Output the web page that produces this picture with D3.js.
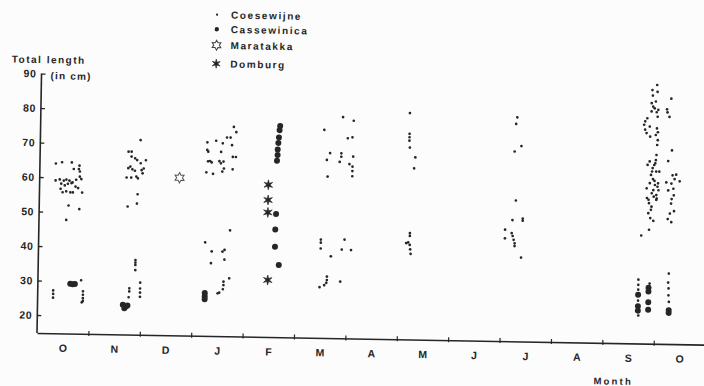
<!DOCTYPE html>
<html>
<head>
<meta charset="utf-8">
<script src="https://cdn.jsdelivr.net/npm/d3@7"></script>
<style>
  body { margin: 0; background: #fcfcfc; }
  svg { display: block; font-family: "Liberation Sans", Arial, sans-serif; font-weight: bold; }
</style>
</head>
<body>
<svg id="chart" width="704" height="386"></svg>
<script>
// month labels, October to October (x = months since 1 October)
const months = ['O', 'N', 'D', 'J', 'F', 'M', 'A', 'M', 'J', 'J', 'A', 'S', 'O'];
const yTicks = [20, 30, 40, 50, 60, 70, 80, 90];
const series = ['Coesewijne', 'Cassewinica', 'Maratakka', 'Domburg'];

// [month, total length in cm]
const coesewijne = [
  // October
  [0.31, 64.0], [0.43, 64.4], [0.62, 64.4], [0.77, 63.5], [0.66, 62.5], [0.76, 62.5], [0.78, 61.8],
  [0.31, 59.1], [0.39, 59.4], [0.47, 59.1], [0.52, 59.4], [0.58, 59.1], [0.64, 58.6], [0.71, 59.4],
  [0.78, 60.3], [0.81, 59.6], [0.42, 58.2], [0.49, 57.7], [0.55, 58.2], [0.62, 58.4], [0.70, 57.4],
  [0.41, 56.7], [0.45, 55.7], [0.52, 56.0], [0.60, 55.7], [0.65, 55.7], [0.75, 57.0], [0.83, 55.7],
  [0.57, 51.9], [0.78, 50.9], [0.53, 47.7],
  [0.30, 27.2], [0.30, 26.2], [0.30, 25.1], [0.84, 30.3], [0.88, 27.1], [0.88, 26.1], [0.88, 25.1],
  [0.88, 24.3], [0.86, 23.9],
  // November
  [1.72, 67.8], [1.78, 67.8], [1.78, 66.4], [1.85, 65.9], [1.89, 65.4], [1.72, 63.0], [1.76, 63.5],
  [1.80, 62.7], [1.85, 62.3], [1.95, 71.2], [1.96, 64.5], [2.02, 63.0], [2.06, 65.4], [1.98, 62.5],
  [2.00, 61.6], [1.69, 60.3], [1.78, 60.3], [1.88, 60.6], [1.91, 60.1], [1.91, 55.5], [1.72, 51.9],
  [1.90, 52.8],
  [1.78, 28.2], [1.78, 27.3], [1.77, 25.6], [1.89, 36.4], [1.89, 35.7], [1.89, 35.0], [1.89, 33.5],
  [1.99, 29.9], [1.99, 28.2], [1.99, 27.0], [1.99, 25.8],
  // January
  [3.25, 70.9], [3.25, 68.7], [3.27, 68.2], [3.42, 71.4], [3.52, 68.2], [3.55, 70.7], [3.63, 72.4],
  [3.70, 72.4], [3.73, 70.2], [3.76, 75.5], [3.81, 74.0], [3.31, 65.5], [3.27, 65.4], [3.34, 65.1],
  [3.49, 65.5], [3.52, 64.9], [3.57, 65.4], [3.75, 66.8], [3.81, 66.8], [3.24, 62.2], [3.37, 61.8],
  [3.55, 62.5], [3.58, 63.4], [3.75, 63.2],
  [3.24, 41.9], [3.37, 39.3], [3.36, 35.9], [3.58, 39.3], [3.62, 39.8], [3.72, 45.5], [3.62, 37.0],
  [3.61, 30.6], [3.61, 29.6], [3.72, 31.6], [3.50, 27.2], [3.53, 27.4], [3.60, 28.4],
  // March
  [5.52, 75.1], [5.88, 78.9], [6.09, 77.9], [5.98, 72.8], [6.07, 73.1], [5.64, 68.4], [5.58, 66.4],
  [5.86, 68.4], [5.86, 67.4], [5.83, 65.9], [6.09, 67.5], [6.02, 65.3], [6.08, 64.6], [6.08, 63.3],
  [6.08, 61.8], [5.60, 61.6],
  [5.49, 43.3], [5.49, 42.4], [5.49, 40.7], [5.95, 43.4], [5.90, 40.5], [6.08, 40.4], [5.69, 38.5],
  [5.62, 32.6], [5.62, 31.6], [5.61, 30.8], [5.57, 30.1], [5.48, 29.5], [5.88, 31.2],
  // May
  [7.18, 80.4], [7.18, 74.4], [7.18, 73.4], [7.18, 72.4], [7.19, 70.4], [7.30, 67.6], [7.28, 64.4],
  [7.22, 45.6], [7.22, 44.8], [7.15, 42.7], [7.19, 42.9], [7.22, 42.2], [7.23, 40.9], [7.24, 39.6],
  // July
  [9.27, 79.7], [9.25, 77.8], [9.36, 71.4], [9.23, 69.8], [9.27, 55.6], [9.21, 49.9], [9.41, 50.4],
  [9.41, 49.8], [9.07, 47.1], [9.07, 44.6], [9.20, 46.1], [9.22, 45.3], [9.24, 44.2], [9.26, 43.2],
  [9.26, 42.4], [9.39, 39.1],
  // September
  [11.98, 89.8], [11.89, 88.3], [11.99, 87.8], [11.90, 86.7], [11.88, 84.5], [11.96, 85.0], [11.91, 83.5],
  [11.94, 83.0], [12.01, 82.6], [11.98, 81.9], [11.88, 82.1], [12.00, 80.6], [11.80, 80.1], [11.76, 79.2],
  [11.74, 78.2], [11.85, 77.7], [11.76, 76.8], [11.79, 75.8], [11.86, 74.8], [11.99, 77.2], [12.01, 76.1],
  [11.97, 75.3], [12.01, 73.8], [12.00, 72.4], [11.99, 69.5], [11.98, 68.0], [11.86, 67.6], [11.82, 66.6],
  [11.95, 66.6], [11.97, 67.1], [11.92, 65.7], [11.91, 64.7], [11.99, 64.7], [11.89, 63.7], [12.05, 64.7],
  [11.93, 62.5], [11.96, 62.0], [11.87, 61.3], [11.97, 60.8], [12.02, 60.3], [12.03, 61.3], [11.81, 59.8],
  [11.94, 59.3], [12.04, 59.3], [11.91, 58.4], [12.00, 57.9], [11.85, 56.5], [12.01, 56.9], [11.82, 57.0],
  [11.95, 57.4], [12.00, 56.5], [11.86, 55.5], [11.91, 54.5], [11.90, 53.6], [11.85, 52.6], [11.89, 51.2],
  [11.95, 50.4], [11.72, 46.1], [11.87, 47.8],
  [11.68, 33.3], [11.68, 31.8], [11.68, 30.4], [11.68, 27.2], [11.69, 22.9], [11.90, 32.2],
  // October
  [12.26, 85.9], [12.18, 82.8], [12.19, 81.9], [12.23, 80.6], [12.29, 70.9], [12.22, 67.8], [12.31, 63.7],
  [12.38, 63.9], [12.35, 62.6], [12.45, 62.0], [12.29, 61.3], [12.19, 61.6], [12.23, 59.3], [12.33, 59.8],
  [12.34, 57.9], [12.30, 56.8], [12.29, 55.5], [12.35, 53.3], [12.27, 52.6], [12.23, 51.0], [12.30, 50.1],
  [12.27, 35.2], [12.26, 32.6], [12.27, 30.9], [12.27, 28.9], [12.28, 27.0]
];

const cassewinica = [
  [0.63, 29.2], [0.68, 29.1], [0.72, 29.2],
  [1.66, 23.4], [1.72, 22.9], [1.69, 22.4], [1.75, 23.2],
  [3.25, 27.2], [3.25, 26.2], [3.25, 25.4],
  [4.66, 76.0], [4.65, 74.8], [4.64, 72.7], [4.63, 71.1], [4.62, 69.2], [4.62, 67.6], [4.61, 65.9],
  [4.61, 50.5], [4.60, 46.0], [4.60, 41.0], [4.68, 35.7],
  [11.68, 28.9], [11.68, 25.6], [11.68, 24.3], [11.88, 31.0], [11.88, 29.9], [11.88, 26.8], [11.88, 24.6],
  [12.28, 24.6], [12.28, 23.8]
];

const maratakka = [[2.72, 60.5]];

const domburg = [[4.45, 58.9], [4.45, 54.5], [4.45, 50.9], [4.47, 31.3]];

const ink = '#262626';
const paper = '#fcfcfc';

const svg = d3.select('#chart');
// the scanned page is turned about one degree
const g = svg.append('g').attr('transform', 'rotate(1,37,333)');

const x = d3.scaleLinear().domain([0, 13]).range([37, 705.2]);
const y = d3.scaleLinear().domain([20, 90]).range([315, 73.5]);
const axisY = 333;

function starPath(R, r) {
  const pts = d3.range(12).map(i => {
    const a = Math.PI / 6 * i - Math.PI / 2;
    const rad = i % 2 === 0 ? R : r;
    return [rad * Math.cos(a), rad * Math.sin(a)];
  });
  return 'M' + pts.map(p => p[0].toFixed(2) + ',' + p[1].toFixed(2)).join('L') + 'Z';
}

// x axis
const xAxis = g.append('g')
  .attr('transform', 'translate(0,' + axisY + ')')
  .call(d3.axisBottom(x).tickValues(d3.range(1, 13)).tickSizeOuter(0).tickFormat(''));
xAxis.select('.domain').attr('stroke', ink).attr('stroke-width', 1.6);
xAxis.selectAll('.tick line').attr('stroke', ink).attr('stroke-width', 1.2).attr('y1', 2).attr('y2', -3);

const monthAxis = g.append('g')
  .attr('transform', 'translate(0,' + axisY + ')')
  .call(d3.axisBottom(x)
    .tickValues(d3.range(13).map(i => i + 0.5))
    .tickSize(0).tickPadding(11)
    .tickFormat(d => months[Math.floor(d)]));
monthAxis.select('.domain').remove();
monthAxis.selectAll('text')
  .attr('fill', ink).style('font-size', '10.5px').style('font-weight', 'bold')
  .style('font-family', '"Liberation Sans", Arial, sans-serif');

g.append('text')
  .attr('x', 614).attr('y', 374.5)
  .attr('text-anchor', 'middle')
  .attr('fill', ink)
  .style('font-size', '9.5px').style('letter-spacing', '2.2px')
  .text('Month');

// y axis
const yAxis = g.append('g')
  .attr('transform', 'translate(37,0)')
  .call(d3.axisLeft(y).tickValues(yTicks).tickSize(-4).tickPadding(5));
yAxis.select('.domain').attr('d', 'M0,' + axisY + 'V' + y(90)).attr('stroke', ink).attr('stroke-width', 1.6);
yAxis.selectAll('.tick line').attr('stroke', ink).attr('stroke-width', 1.3);
yAxis.selectAll('text')
  .attr('fill', ink).style('font-size', '10.5px').style('font-weight', 'bold')
  .style('letter-spacing', '0.6px')
  .style('font-family', '"Liberation Sans", Arial, sans-serif');

g.append('text')
  .attr('x', 7).attr('y', 63)
  .attr('fill', ink)
  .style('font-size', '10px').style('letter-spacing', '1.5px')
  .text('Total  length');
g.append('text')
  .attr('x', 46).attr('y', 79)
  .attr('fill', ink)
  .style('font-size', '10px').style('letter-spacing', '1.2px')
  .text('(in cm)');

// points
g.append('g').selectAll('circle')
  .data(coesewijne).join('circle')
  .attr('cx', d => x(d[0])).attr('cy', d => y(d[1]))
  .attr('r', 1.35).attr('fill', ink);

g.append('g').selectAll('circle')
  .data(cassewinica).join('circle')
  .attr('cx', d => x(d[0])).attr('cy', d => y(d[1]))
  .attr('r', 3).attr('fill', ink);

g.append('g').selectAll('path')
  .data(maratakka).join('path')
  .attr('transform', d => 'translate(' + x(d[0]) + ',' + y(d[1]) + ')')
  .attr('d', starPath(5.2, 2.9))
  .attr('fill', paper).attr('stroke', '#555').attr('stroke-width', 1);

g.append('g').selectAll('path')
  .data(domburg).join('path')
  .attr('transform', d => 'translate(' + x(d[0]) + ',' + y(d[1]) + ')')
  .attr('d', starPath(5, 1.8))
  .attr('fill', ink).attr('stroke', ink).attr('stroke-width', 0.6);

// legend
const legendY = [11.6, 26.1, 42.1, 60.6];
const legend = g.append('g').selectAll('g')
  .data(series).join('g')
  .attr('transform', (d, i) => 'translate(211.5,' + legendY[i] + ')');

legend.append('text')
  .attr('x', 14).attr('dy', '0.36em')
  .attr('fill', ink)
  .style('font-size', '10px').style('letter-spacing', '1.6px')
  .text(d => d);

legend.filter(d => d === 'Coesewijne').append('circle').attr('r', 1.1).attr('fill', ink);
legend.filter(d => d === 'Cassewinica').append('circle').attr('r', 2.2).attr('fill', ink);
legend.filter(d => d === 'Maratakka').append('path')
  .attr('d', starPath(5, 2.8)).attr('fill', paper).attr('stroke', '#444').attr('stroke-width', 1);
legend.filter(d => d === 'Domburg').append('path')
  .attr('d', starPath(4.6, 1.6)).attr('fill', ink).attr('stroke', ink).attr('stroke-width', 0.6);
</script>
</body>
</html>
